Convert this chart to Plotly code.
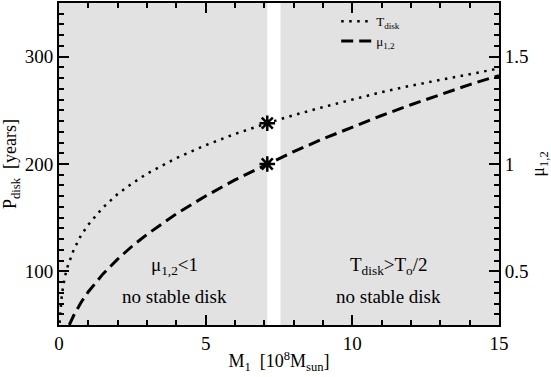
import plotly.graph_objects as go

# values
m_tdisk = [0.02, 0.05, 0.1, 0.2, 0.3, 0.5, 0.75, 1.0, 1.5, 2.0, 2.5, 3.0, 4.0,
           5.0, 6.0, 7.1, 8.0, 9.0, 10.0, 11.0, 12.0, 13.0, 14.0, 15.0]
p_tdisk = [52, 66, 79, 95, 105, 120, 133.5, 143.5, 159.5, 172, 182, 191, 205.5,
           217.5, 228, 238, 245.5, 253, 260, 267, 273, 278.5, 284, 289]

m_mu = [0.35, 0.5, 0.75, 1.0, 1.5, 2.0, 2.5, 3.0, 4.0, 5.0, 6.0, 7.1, 8.0, 9.0,
        10.0, 11.0, 12.0, 13.0, 14.0, 15.0]
mu_12 = [0.25, 0.294, 0.355, 0.405, 0.488, 0.557, 0.618, 0.672, 0.768, 0.851,
         0.926, 1.0, 1.058, 1.117, 1.173, 1.226, 1.276, 1.324, 1.37, 1.412]

star_m = [7.1, 7.1]
star_p = [238, 200]

# shaded regions (no stable disk) on the M axis
shade_left = [0, 7.1]
shade_right = [7.55, 15]

note_x = [3.95, 3.95, 11.24, 11.24]
note_y = [105, 77, 105, 77]
note_text = ["μ<sub>1,2</sub><1", "no stable disk",
             "T<sub>disk</sub>>T<sub>o</sub>/2", "no stable disk"]

serif = "Liberation Serif, Times New Roman, DejaVu Serif, serif"
shade = "#e2e2e2"

fig = go.Figure()

for x0, x1 in (shade_left, shade_right):
    fig.add_shape(type="rect", xref="x", yref="y", x0=x0, x1=x1, y0=50, y1=350,
                  fillcolor=shade, line_width=0, layer="below")

fig.add_trace(go.Scatter(x=m_tdisk, y=p_tdisk, mode="lines", name="T<sub>disk</sub>",
                         line=dict(color="black", width=2.5, dash="2.5px,5.5px")))
fig.add_trace(go.Scatter(x=m_mu, y=mu_12, mode="lines", name="μ<sub>1,2</sub>", yaxis="y2",
                         line=dict(color="black", width=3, dash="12px,6px")))
fig.add_trace(go.Scatter(x=star_m, y=star_p, mode="markers", showlegend=False,
                         marker=dict(symbol="asterisk-open", size=13, color="black",
                                     line=dict(color="black", width=2.5))))

for tx, ty, tt in zip(note_x, note_y, note_text):
    fig.add_annotation(x=tx, y=ty, text=tt, showarrow=False,
                       font=dict(family=serif, size=19, color="black"))

axis_common = dict(showline=True, linecolor="black", linewidth=2, ticks="inside",
                   tickcolor="black", tickwidth=1.5, ticklen=10, showgrid=False,
                   zeroline=False, tickfont=dict(family=serif, size=19, color="black"))

fig.update_layout(
    width=551, height=377,
    margin=dict(l=59, r=52, t=1, b=52),
    plot_bgcolor="white", paper_bgcolor="white",
    font=dict(family=serif, color="black"),
    xaxis=dict(range=[0, 15], dtick=5, mirror="ticks",
               minor=dict(dtick=1, ticks="inside", ticklen=5, tickcolor="black"),
               title=dict(text="M<sub>1</sub>  [10<sup>8</sup>M<sub>sun</sub>]",
                          font=dict(family=serif, size=18), standoff=2),
               **axis_common),
    yaxis=dict(range=[50, 350], tickvals=[100, 200, 300],
               minor=dict(dtick=10, ticks="inside", ticklen=5, tickcolor="black"),
               title=dict(text="P<sub>disk</sub>  [years]",
                          font=dict(family=serif, size=18), standoff=5),
               **axis_common),
    yaxis2=dict(range=[0.25, 1.75], tickvals=[0.5, 1, 1.5], overlaying="y", side="right",
                minor=dict(dtick=0.05, ticks="inside", ticklen=5, tickcolor="black"),
                title=dict(text="μ<sub>1,2</sub>", font=dict(family=serif, size=18), standoff=8),
                **axis_common),
    legend=dict(x=0.63, y=0.99, xanchor="left", yanchor="top", bgcolor="rgba(0,0,0,0)",
                font=dict(family=serif, size=13), tracegroupgap=0),
    showlegend=True,
)

# drop the page's default body margin so the figure sits at the top-left corner
fig.write_html("out.html", config={"displayModeBar": False},
               post_script="document.body.style.margin = '0';")
